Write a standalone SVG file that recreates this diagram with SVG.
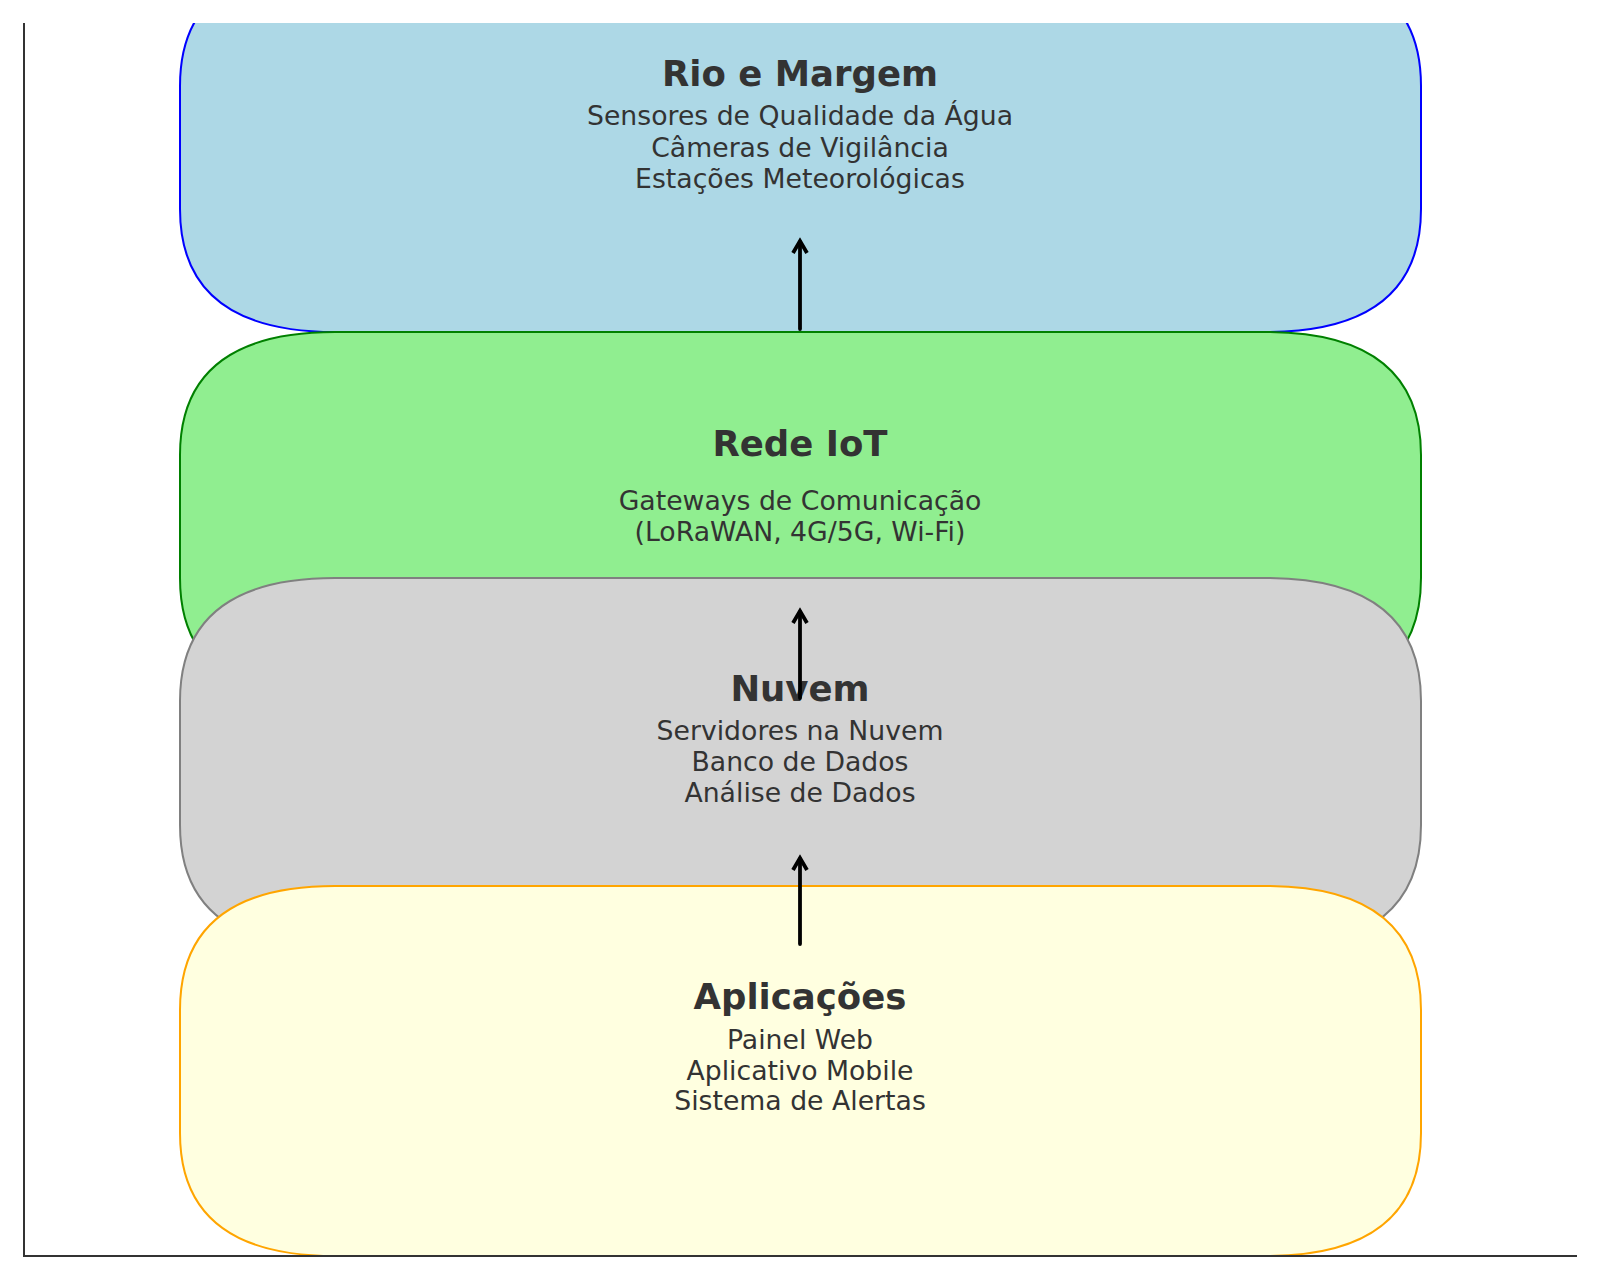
<svg xmlns="http://www.w3.org/2000/svg" width="1600" height="1280" viewBox="0 0 1600 1280">
  <style>
    .box { stroke-width: 2; }
    .title { font-family: "DejaVu Sans", "Liberation Sans", sans-serif; font-weight: bold; font-size: 35.5px; fill: #333333; text-anchor: middle; }
    .body { font-family: "DejaVu Sans", "Liberation Sans", sans-serif; font-size: 26.7px; fill: #333333; text-anchor: middle; }
    .arrow { stroke: #000000; stroke-width: 3.8; fill: none; }
    .spine { stroke: #333333; stroke-width: 2; fill: none; }
  </style>
  <defs>
    <clipPath id="axes">
      <rect x="24" y="23" width="1553" height="1233"/>
    </clipPath>
  </defs>
  <rect x="0" y="0" width="1600" height="1280" fill="#ffffff"/>

  <g clip-path="url(#axes)">
    <g id="rio-margem">
      <path class="box" fill="#add8e6" stroke="#0000ff" d="M335,-37 H1266 Q1421,-37 1421,86 V209 Q1421,332 1266,332 H335 Q180,332 180,209 V86 Q180,-37 335,-37 Z"/>
      <text class="title" x="800" y="86">Rio e Margem</text>
      <text class="body" x="800" y="125">Sensores de Qualidade da Água</text>
      <text class="body" x="800" y="156.5">Câmeras de Vigilância</text>
      <text class="body" x="800" y="188">Estações Meteorológicas</text>
    </g>
    <g id="rede-iot">
      <path class="box" fill="#90ee90" stroke="#008000" d="M335,332 H1266 Q1421,332 1421,455 V578 Q1421,701 1266,701 H335 Q180,701 180,578 V455 Q180,332 335,332 Z"/>
      <text class="title" x="800" y="456">Rede IoT</text>
      <text class="body" x="800" y="510">Gateways de Comunicação</text>
      <text class="body" x="800" y="540.5">(LoRaWAN, 4G/5G, Wi-Fi)</text>
    </g>
    <g id="nuvem">
      <path class="box" fill="#d3d3d3" stroke="#808080" d="M335,578 H1266 Q1421,578 1421,701 V825 Q1421,948 1266,948 H335 Q180,948 180,825 V701 Q180,578 335,578 Z"/>
      <text class="title" x="800" y="701">Nuvem</text>
      <text class="body" x="800" y="740">Servidores na Nuvem</text>
      <text class="body" x="800" y="770.5">Banco de Dados</text>
      <text class="body" x="800" y="801.5">Análise de Dados</text>
    </g>
    <g id="aplicacoes">
      <path class="box" fill="#ffffe0" stroke="#ffa500" d="M335,886 H1266 Q1421,886 1421,1010 V1133 Q1421,1256 1266,1256 H335 Q180,1256 180,1133 V1010 Q180,886 335,886 Z"/>
      <text class="title" x="800" y="1009">Aplicações</text>
      <text class="body" x="800" y="1049">Painel Web</text>
      <text class="body" x="800" y="1079.5">Aplicativo Mobile</text>
      <text class="body" x="800" y="1110">Sistema de Alertas</text>
    </g>
  </g>

  <g id="connectors">
    <line class="arrow" x1="800" y1="944" x2="800" y2="859" stroke-linecap="round"/>
    <polyline class="arrow" points="793,870 800,858 807,870" stroke-linejoin="miter"/>
    <line class="arrow" x1="800" y1="698" x2="800" y2="612" stroke-linecap="round"/>
    <polyline class="arrow" points="793,623 800,611 807,623" stroke-linejoin="miter"/>
    <line class="arrow" x1="800" y1="329" x2="800" y2="242" stroke-linecap="round"/>
    <polyline class="arrow" points="793,253 800,241 807,253" stroke-linejoin="miter"/>
  </g>

  <g id="axes-spines">
    <line class="spine" x1="24" y1="23" x2="24" y2="1256"/>
    <line class="spine" x1="23" y1="1256" x2="1577" y2="1256"/>
  </g>
</svg>
